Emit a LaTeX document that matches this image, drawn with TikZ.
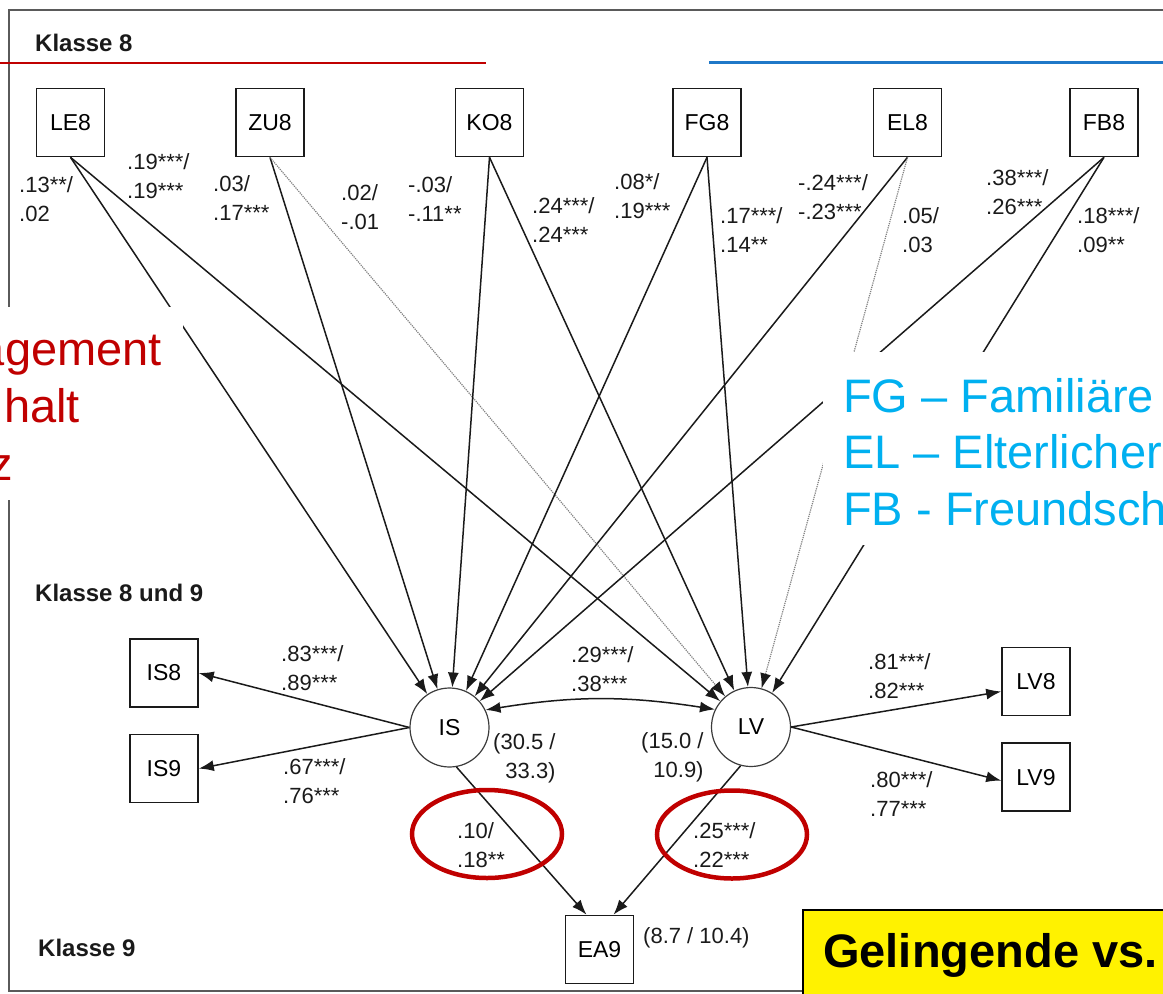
\documentclass[tikz,border=0pt]{standalone}
\usepackage{fontspec}
\setmainfont{Liberation Sans}
\usetikzlibrary{arrows.meta,positioning,shapes.geometric}
\definecolor{ink}{HTML}{1A1A1A}
\definecolor{frame}{HTML}{5A5A5A}
\definecolor{darkred}{HTML}{C00000}
\definecolor{sky}{HTML}{00B0F0}
\definecolor{rule}{HTML}{1F78C8}
\tikzset{
  box/.style={draw=ink,line width=1.6pt,minimum width=68pt,minimum height=68pt,
    inner sep=0pt,font=\fontsize{23}{27}\selectfont},
  latent/.style={circle,draw=ink!85,line width=1.2pt,minimum size=79pt,inner sep=0pt,
    font=\fontsize{23}{27}\selectfont},
  arrow/.style={-{Latex[length=15pt,width=11pt]},line width=1.5pt,draw=ink},
  weak/.style={-{Latex[length=15pt,width=11pt,color=ink]},densely dotted,draw=ink!55,
    line width=1.2pt},
  twoway/.style={{Latex[length=15pt,width=11pt]}-{Latex[length=15pt,width=11pt]},
    line width=1.5pt,draw=ink},
  coef/.style={font=\fontsize{22}{29}\selectfont,align=left,inner sep=0pt,anchor=west,text=ink},
  phase/.style={font=\bfseries\fontsize{24}{28}\selectfont,inner sep=0pt,anchor=west,text=ink},
  note/.style={font=\fontsize{47}{56}\selectfont,inner sep=0pt},
  ring/.style={ellipse,draw=darkred,line width=4.5pt,minimum width=150pt,minimum height=88pt,
    inner sep=0pt}
}
\begin{document}
\begin{tikzpicture}[x=1pt,y=-1pt]
  \useasboundingbox (0,0) rectangle (1163,994);
  \clip (0,0) rectangle (1163,994);
  \draw[draw=frame,line width=2.8pt] (9,10) rectangle (1200,991);
  \draw[draw=darkred,line width=2pt] (0,62.7) -- (486,62.7);
  \draw[draw=rule,line width=2.5pt] (709,62.7) -- (1170,62.7);

  \node[phase] (k8) at (35,43) {Klasse 8};
  \node[phase] (k89) at (35,593) {Klasse 8 und 9};
  \node[phase] (k9) at (38,948) {Klasse 9};

  \node[box] (LE8) at (70.5,122.5) {LE8};
  \node[box] (ZU8) at (270,122.5) {ZU8};
  \node[box] (KO8) at (489.5,122.5) {KO8};
  \node[box] (FG8) at (707,122.5) {FG8};
  \node[box] (EL8) at (907.5,122.5) {EL8};
  \node[box] (FB8) at (1104,122.5) {FB8};

  \node[latent] (IS) at (449.5,727.5) {IS};
  \node[latent] (LV) at (751,727) {LV};
  \node[box] (IS8) at (164,673) {IS8};
  \node[box,below=26pt of IS8] (IS9) {IS9};
  \node[box] (LV8) at (1036,681.5) {LV8};
  \node[box,below=26pt of LV8] (LV9) {LV9};
  \node[box] (EA9) at (599.5,949.5) {EA9};

  \draw[arrow] (LE8.south) -- (IS);
  \draw[arrow] (LE8.south) -- (LV);
  \draw[arrow] (ZU8.south) -- (IS);
  \draw[weak] (ZU8.south) -- (LV);
  \draw[arrow] (KO8.south) -- (IS);
  \draw[arrow] (KO8.south) -- (LV);
  \draw[arrow] (FG8.south) -- (IS);
  \draw[arrow] (FG8.south) -- (LV);
  \draw[arrow] (EL8.south) -- (IS);
  \draw[weak] (EL8.south) -- (LV);
  \draw[arrow] (FB8.south) -- (IS);
  \draw[arrow] (FB8.south) -- (LV);
  \draw[twoway] (IS.26) to[bend left=9] (LV.154);
  \draw[arrow] (IS.west) -- (IS8.east);
  \draw[arrow] (IS.west) -- (IS9.east);
  \draw[arrow] (LV.east) -- ([yshift=-10pt]LV8.west);
  \draw[arrow] (LV.east) -- ([yshift=-3.5pt]LV9.west);
  \draw[arrow] (IS.-80) -- ([xshift=-13pt]EA9.north);
  \draw[arrow] (LV.-105) -- ([xshift=14pt]EA9.north);

  \node[coef] (cLEis) at (19,199) {.13**/\\.02};
  \node[coef] (cLElv) at (127,176) {.19***/\\.19***};
  \node[coef] (cZUis) at (213,198) {.03/\\.17***};
  \node[coef] (cZUlv) at (341,207) {.02/\\-.01};
  \node[coef] (cKOis) at (408,199) {-.03/\\-.11**};
  \node[coef] (cKOlv) at (532,220) {.24***/\\.24***};
  \node[coef] (cFGis) at (614,196) {.08*/\\.19***};
  \node[coef] (cFGlv) at (720,230) {.17***/\\.14**};
  \node[coef] (cELis) at (798,197) {-.24***/\\-.23***};
  \node[coef] (cELlv) at (902,230) {.05/\\.03};
  \node[coef] (cFBis) at (986,192) {.38***/\\.26***};
  \node[coef] (cFBlv) at (1077,230) {.18***/\\.09**};
  \node[coef] (lIS8) at (281,668) {.83***/\\.89***};
  \node[coef] (lIS9) at (283,781) {.67***/\\.76***};
  \node[coef] (rISLV) at (571,669) {.29***/\\.38***};
  \node[coef] (lLV8) at (868,676) {.81***/\\.82***};
  \node[coef] (lLV9) at (870,794) {.80***/\\.77***};
  \node[coef,align=right] (vIS) at (493,758) {(30.5 /\\33.3)};
  \node[coef,align=right] (vLV) at (641,757) {(15.0 /\\10.9)};
  \node[coef] (bIS) at (457,845) {.10/\\.18**};
  \node[coef] (bLV) at (693,845) {.25***/\\.22***};
  \node[coef] (vEA) at (643,938) {(8.7 / 10.4)};

  \node[ring] (hiIS) at (487,834) {};
  \node[ring] (hiLV) at (732,834.5) {};

  \fill[white] (-5,307) rectangle (183,500);
  \fill[white] (823,352) rectangle (1170,545);
  \node[note,text=darkred,anchor=base east] (legLE) at (162,365) {agement};
  \node[note,text=darkred,anchor=base east] (legZU) at (80,422) {halt};
  \node[note,text=darkred,anchor=base east] (legKO) at (13,480) {z};
  \node[note,text=sky,anchor=base west] (legFG) at (843,412) {FG – Familiäre};
  \node[note,text=sky,anchor=base west] (legEL) at (843,468) {EL – Elterlicher};
  \node[note,text=sky,anchor=base west] (legFB) at (843,525) {FB - Freundsch};

  \draw[draw=black,line width=2pt,fill=yellow] (803,910) rectangle (1200,1020);
  \node[note,font=\bfseries\fontsize{47}{56}\selectfont,anchor=base west] (verdict)
    at (823,967) {Gelingende vs.};
\end{tikzpicture}
\end{document}
